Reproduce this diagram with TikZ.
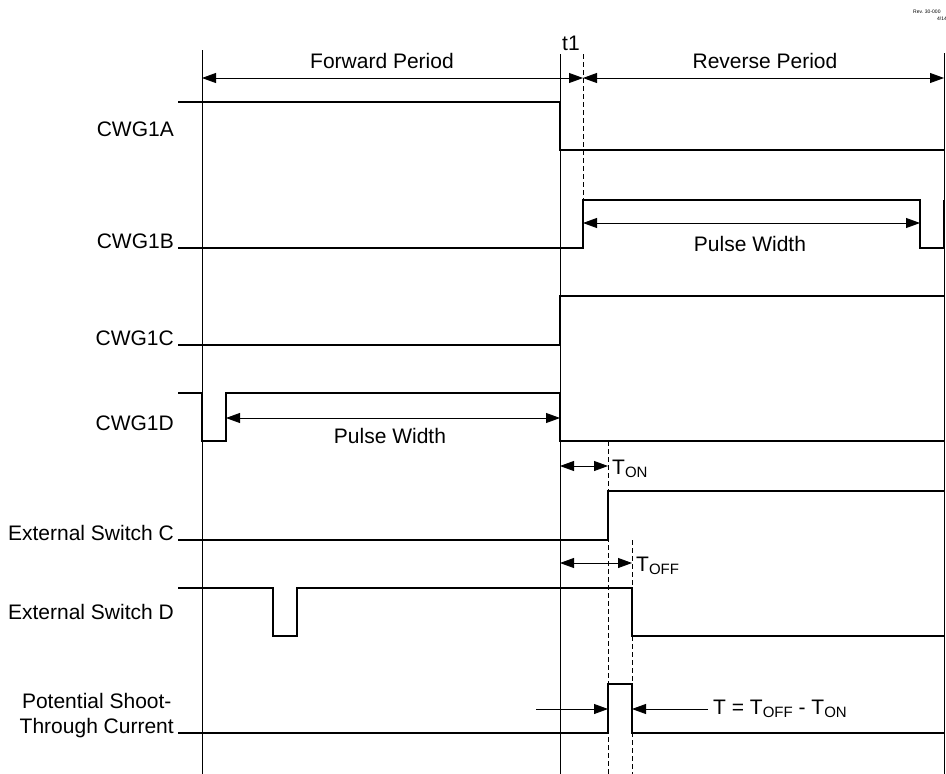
\documentclass[tikz,border=0pt]{standalone}
\usepackage{fontspec}
\setmainfont{Liberation Sans}
\usetikzlibrary{arrows.meta}

\newcommand{\lowidx}[1]{\raisebox{-0.35ex}{\fontsize{15}{15}\selectfont #1}}

\begin{document}
\begin{tikzpicture}[
      x=1pt, y=-1pt,
      >={Triangle[length=14pt,width=10pt]},
      font=\fontsize{21}{25}\selectfont,
      signal/.style={line width=2pt},
      guide/.style={line width=1pt},
      marker/.style={line width=1pt, dash pattern=on 5pt off 3pt},
      dimension/.style={<->, line width=0.8pt},
      pointer/.style={->, line width=0.8pt},
      signame/.style={anchor=base east, inner sep=0pt, align=center},
      caption/.style={anchor=base, inner sep=0pt},
    ]

    \clip (0,0) rectangle (946,774);

    % revision stamp
    \node[font=\fontsize{5}{6}\selectfont, anchor=west, inner sep=0pt] (rev) at (913,12) {Rev. 30-000};
    \node[font=\fontsize{5}{6}\selectfont, anchor=west, inner sep=0pt] (date) at (937,19) {4/14};

    % guide lines
    \draw[guide] (202,50) -- (202,774);
    \draw[guide] (560,54) -- (560,774);
    \draw[guide] (944,53) -- (944,774);
    \draw[marker] (583,54) -- (583,200);
    \draw[marker] (608,441) -- (608,774);
    \draw[marker] (632,540) -- (632,774);

    % periods
    \coordinate (fwdL) at (202,78);
    \coordinate (tOne) at (583,78);
    \coordinate (revR) at (944,78);
    \draw[dimension] (fwdL) -- (tOne);
    \draw[dimension] (tOne) -- (revR);
    \node[caption] (fwd) at (382,68) {Forward Period};
    \node[caption] (rvs) at (765,68) {Reverse Period};
    \node[caption] (t1) at (571,50) {t1};

    % signal names
    \node[signame] (A) at (174,136) {CWG1A};
    \node[signame] (B) at (174,248) {CWG1B};
    \node[signame] (C) at (174,345) {CWG1C};
    \node[signame] (D) at (174,430) {CWG1D};
    \node[signame] (swC) at (174,540) {External Switch C};
    \node[signame] (swD) at (174,619) {External Switch D};
    \node[signame] (shoot) at (174,733) {Potential Shoot-\\Through Current};

    % waveforms
    \draw[signal] (178,102) -- (560,102) -- (560,150) -- (944,150);
    \draw[signal] (178,248) -- (583,248) -- (583,200) -- (920,200) -- (920,248) -- (944,248) -- (944,200);
    \draw[signal] (178,345) -- (560,345) -- (560,296) -- (944,296);
    \draw[signal] (178,393) -- (202,393) -- (202,441) -- (226,441) -- (226,393) -- (560,393) -- (560,441) -- (944,441);
    \draw[signal] (178,540) -- (608,540) -- (608,491) -- (944,491);
    \draw[signal] (178,588) -- (273,588) -- (273,636) -- (297,636) -- (297,588) -- (632,588) -- (632,636) -- (944,636);
    \draw[signal] (178,733) -- (608,733) -- (608,684) -- (632,684) -- (632,733) -- (944,733);

    % pulse widths
    \coordinate (pwBL) at (583,223);
    \coordinate (pwBR) at (920,223);
    \draw[dimension] (pwBL) -- (pwBR);
    \node[caption] (pwB) at (750,251) {Pulse Width};
    \coordinate (pwDL) at (226,418);
    \coordinate (pwDR) at (560,418);
    \draw[dimension] (pwDL) -- (pwDR);
    \node[caption] (pwD) at (390,443) {Pulse Width};

    % delays
    \coordinate (onL) at (560,466);
    \coordinate (onR) at (608,466);
    \draw[dimension] (onL) -- (onR);
    \node[caption, anchor=base west] (ton) at (612,474) {T\lowidx{ON}};
    \coordinate (offL) at (560,563);
    \coordinate (offR) at (632,563);
    \draw[dimension] (offL) -- (offR);
    \node[caption, anchor=base west] (toff) at (636,571) {T\lowidx{OFF}};

    % shoot-through window
    \coordinate (inL) at (536,709);
    \coordinate (inR) at (708,709);
    \coordinate (edgeL) at (608,709);
    \coordinate (edgeR) at (632,709);
    \draw[pointer] (inL) -- (edgeL);
    \draw[pointer] (inR) -- (edgeR);
    \node[caption, anchor=base west] (tdiff) at (713,714) {T = T\lowidx{OFF} - T\lowidx{ON}};
  \end{tikzpicture}
\end{document}
